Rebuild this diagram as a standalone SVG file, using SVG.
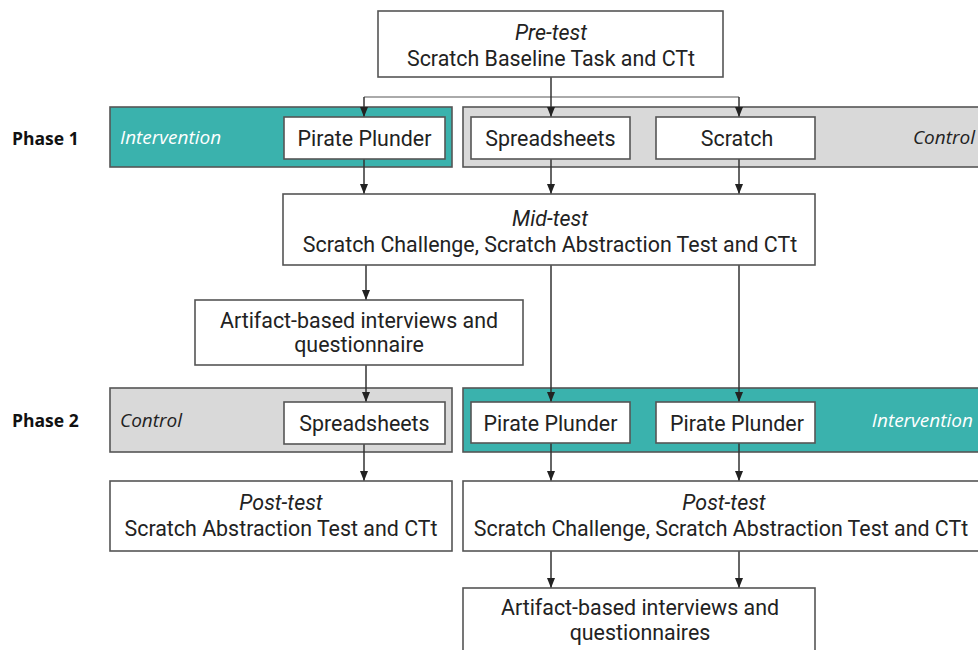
<svg xmlns="http://www.w3.org/2000/svg" width="978" height="650" viewBox="0 0 978 650">
<defs>
<marker id="arr" viewBox="0 0 10 10" refX="10" refY="5" markerWidth="10" markerHeight="10" markerUnits="userSpaceOnUse" orient="auto">
<path d="M0,1 L10,5 L0,9 Z" fill="#222"/>
</marker>
<style>
.box{fill:#fff;stroke:#555;stroke-width:1.6}
.teal{fill:#3AB2AD;stroke:#555;stroke-width:1.6}
.gray{fill:#D9D9D9;stroke:#555;stroke-width:1.6}
.t{font-family:Roboto,"Liberation Sans",sans-serif;font-size:21.4px;fill:#222;text-anchor:middle}
.i{font-style:italic}
.lab{font-family:"Open Sans","Liberation Sans",sans-serif;font-size:19px;font-style:italic}
.ph{font-family:"Open Sans","Liberation Sans",sans-serif;font-size:17.5px;font-weight:bold;fill:#111}
.c{fill:none;stroke:#333;stroke-width:1.5}
.cl{fill:none;stroke:#aaa;stroke-width:2}
</style>
</defs>
<rect width="978" height="650" fill="#fff"/>
<g id="phase-labels">
<text class="ph" x="12" y="145">Phase 1</text>
<text class="ph" x="12" y="427">Phase 2</text>
</g>
<g id="band-p1-intervention">
<rect class="teal" x="110" y="107" width="342" height="60"/>
<text class="lab" x="120" y="144" fill="#fff">Intervention</text>
</g>
<g id="band-p1-control">
<rect class="gray" x="463" y="107" width="525" height="60"/>
<text class="lab" x="975" y="144" fill="#222" text-anchor="end">Control</text>
</g>
<g id="band-p2-control">
<rect class="gray" x="110" y="388" width="342" height="64"/>
<text class="lab" x="120" y="427" fill="#222">Control</text>
</g>
<g id="band-p2-intervention">
<rect class="teal" x="463" y="388" width="525" height="64"/>
<text class="lab" x="973" y="427" fill="#fff" text-anchor="end">Intervention</text>
</g>
<g id="connectors">
<path class="cl" d="M364,97 H739"/>
<path class="c" d="M551,77 V117" marker-end="url(#arr)"/>
<path class="c" d="M364,97 V117" marker-end="url(#arr)"/>
<path class="c" d="M739,97 V117" marker-end="url(#arr)"/>
<path class="c" d="M364,159 V194" marker-end="url(#arr)"/>
<path class="c" d="M551,159 V194" marker-end="url(#arr)"/>
<path class="c" d="M739,159 V194" marker-end="url(#arr)"/>
<path class="c" d="M366,265 V300" marker-end="url(#arr)"/>
<path class="c" d="M551,265 V402" marker-end="url(#arr)"/>
<path class="c" d="M739,265 V402" marker-end="url(#arr)"/>
<path class="c" d="M366,365 V402" marker-end="url(#arr)"/>
<path class="c" d="M364,444 V481" marker-end="url(#arr)"/>
<path class="c" d="M551,443 V481" marker-end="url(#arr)"/>
<path class="c" d="M739,443 V481" marker-end="url(#arr)"/>
<path class="c" d="M551,551 V588" marker-end="url(#arr)"/>
<path class="c" d="M739,551 V588" marker-end="url(#arr)"/>
</g>
<g id="pretest">
<rect class="box" x="378" y="11" width="345" height="66"/>
<text class="t i" x="551" y="40">Pre-test</text>
<text class="t" x="551" y="66">Scratch Baseline Task and CTt</text>
</g>
<g id="p1-pirate">
<rect class="box" x="284" y="117" width="161" height="42"/>
<text class="t" x="364.5" y="146">Pirate Plunder</text>
</g>
<g id="p1-spreadsheets">
<rect class="box" x="471" y="117" width="159" height="42"/>
<text class="t" x="550.5" y="146">Spreadsheets</text>
</g>
<g id="p1-scratch">
<rect class="box" x="656" y="117" width="159" height="42"/>
<text class="t" x="737" y="146">Scratch</text>
</g>
<g id="midtest">
<rect class="box" x="283" y="194" width="532" height="71"/>
<text class="t i" x="550" y="226">Mid-test</text>
<text class="t" x="550" y="252">Scratch Challenge, Scratch Abstraction Test and CTt</text>
</g>
<g id="artifact-left">
<rect class="box" x="195" y="300" width="328" height="65"/>
<text class="t" x="359" y="328">Artifact-based interviews and</text>
<text class="t" x="359" y="352">questionnaire</text>
</g>
<g id="p2-spreadsheets">
<rect class="box" x="284" y="402" width="161" height="42"/>
<text class="t" x="364.5" y="431">Spreadsheets</text>
</g>
<g id="p2-pirate-a">
<rect class="box" x="471" y="402" width="159" height="41"/>
<text class="t" x="550.5" y="431">Pirate Plunder</text>
</g>
<g id="p2-pirate-b">
<rect class="box" x="656" y="402" width="159" height="41"/>
<text class="t" x="737" y="431">Pirate Plunder</text>
</g>
<g id="posttest-left">
<rect class="box" x="110" y="481" width="342" height="70"/>
<text class="t i" x="281" y="510">Post-test</text>
<text class="t" x="281" y="536">Scratch Abstraction Test and CTt</text>
</g>
<g id="posttest-right">
<rect class="box" x="463" y="481" width="525" height="70"/>
<text class="t i" x="724" y="510">Post-test</text>
<text class="t" x="721" y="536">Scratch Challenge, Scratch Abstraction Test and CTt</text>
</g>
<g id="artifact-right">
<rect class="box" x="463" y="588" width="352" height="80"/>
<text class="t" x="640" y="615">Artifact-based interviews and</text>
<text class="t" x="640" y="640">questionnaires</text>
</g>
</svg>
